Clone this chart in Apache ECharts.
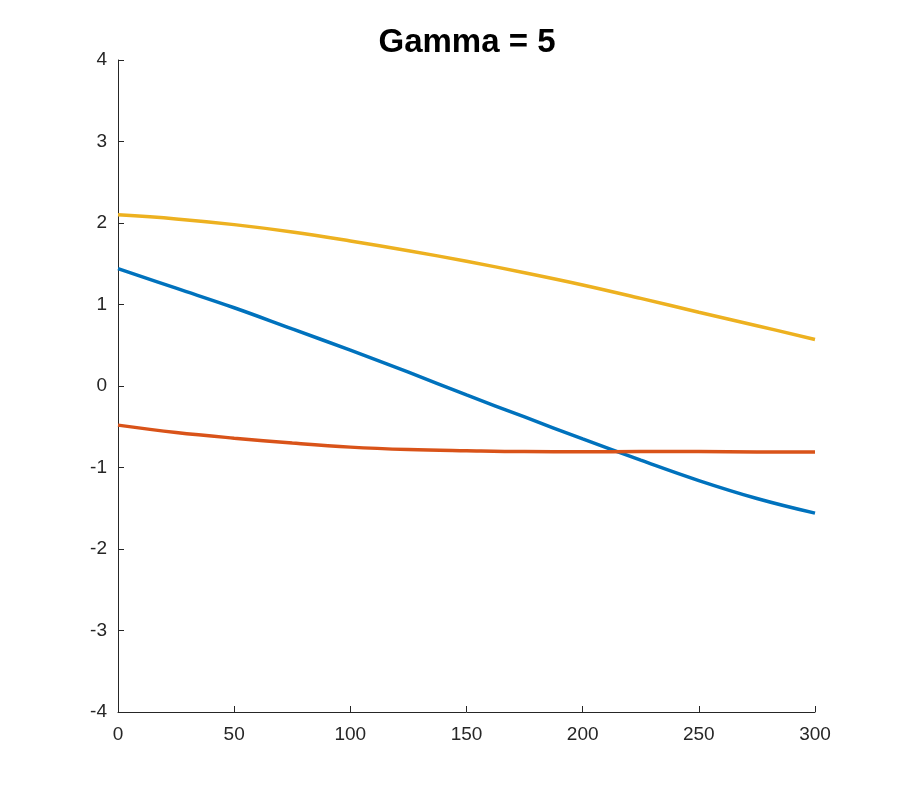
<!DOCTYPE html>
<html>
<head>
<meta charset="utf-8">
<script src="https://cdn.jsdelivr.net/npm/echarts@6/dist/echarts.min.js"></script>
<style>html,body{margin:0;padding:0;background:#fff}#c{width:900px;height:800px}</style>
</head>
<body>
<div id="c"></div>
<script>
const titleText = "Gamma = 5";
const xValues = [0, 25, 50, 75, 100, 125, 150, 175, 200, 225, 250, 275, 300];
const blueValues = [1.44, 1.20, 0.96, 0.70, 0.44, 0.17, -0.11, -0.38, -0.65, -0.91, -1.16, -1.38, -1.56];
const redValues = [-0.48, -0.57, -0.64, -0.70, -0.75, -0.78, -0.795, -0.805, -0.806, -0.805, -0.805, -0.81, -0.81];
const yellowValues = [2.10, 2.05, 1.98, 1.89, 1.78, 1.66, 1.53, 1.39, 1.24, 1.075, 0.905, 0.74, 0.57];
const seriesNames = ["Blue", "Red", "Yellow"];
const seriesColors = ["#0072BD", "#D95319", "#EDB120"];

const pairs = v => xValues.map((x, i) => [x, v[i]]);
const allValues = [blueValues, redValues, yellowValues];

const chart = echarts.init(document.getElementById('c'), null, {renderer: 'canvas'});
const axisColor = '#262626';
chart.setOption({
  backgroundColor: '#fff',
  animation: false,
  title: {
    text: titleText, left: 462, top: 21, textAlign: 'center',
    textStyle: {fontFamily: 'Liberation Sans', fontSize: 33, fontWeight: 'bold', color: '#000', lineHeight: 33}
  },
  grid: {left: 118, right: 85, top: 60, bottom: 88, containLabel: false},
  xAxis: {
    type: 'value', min: 0, max: 300, interval: 50,
    axisLine: {show: true, onZero: false, lineStyle: {color: axisColor, width: 1}},
    axisTick: {show: true, inside: true, length: 6, lineStyle: {color: axisColor}},
    axisLabel: {color: axisColor, fontFamily: 'Liberation Sans', fontSize: 19, margin: 13},
    splitLine: {show: false}
  },
  yAxis: {
    type: 'value', min: -4, max: 4, interval: 1,
    axisLine: {show: true, onZero: false, lineStyle: {color: axisColor, width: 1}},
    axisTick: {show: true, inside: true, length: 6, lineStyle: {color: axisColor}},
    axisLabel: {color: axisColor, fontFamily: 'Liberation Sans', fontSize: 19, margin: 11},
    splitLine: {show: false}
  },
  series: allValues.map((v, i) => ({
    name: seriesNames[i], type: 'line', data: pairs(v), smooth: 0.4,
    showSymbol: false, symbol: 'none',
    lineStyle: {color: seriesColors[i], width: 3.5},
    z: 2 + i
  }))
});
</script>
</body>
</html>
